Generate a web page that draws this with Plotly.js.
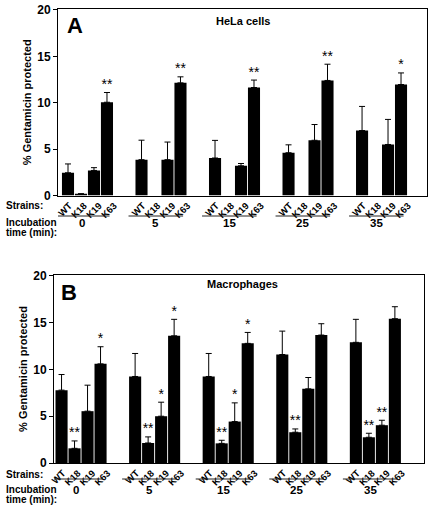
<!DOCTYPE html>
<html>
<head>
<meta charset="utf-8">
<script src="https://cdn.plot.ly/plotly-3.0.1.min.js"></script>
<style>html,body{margin:0;padding:0;background:#fff}#chart{width:433px;height:508px}</style>
</head>
<body>
<div id="chart"></div>
<script>
// ---- Data ----
const strains = ['WT', 'K18', 'K19', 'K63'];
const times = ['0', '5', '15', '25', '35'];

// Panel A: HeLa cells (% gentamicin protected), mean and upper error (null = nothing drawn)
const helaWT = [2.45, 3.86, 4.04, 4.61, 7.0];
const helaWTerr = [0.95, 2.1, 1.9, 0.85, 2.6];
const helaK18 = [0.18, null, null, null, null];
const helaK18err = [null, null, null, null, null];
const helaK19 = [2.7, 3.86, 3.2, 5.95, 5.5];
const helaK19err = [0.3, 1.9, 0.25, 1.7, 2.7];
const helaK63 = [10.05, 12.14, 11.64, 12.4, 11.96];
const helaK63err = [1.05, 0.65, 0.8, 1.75, 1.25];
const helaStarsWT = ['', '', '', '', ''];
const helaStarsK18 = ['', '', '', '', ''];
const helaStarsK19 = ['', '', '', '', ''];
const helaStarsK63 = ['**', '**', '**', '**', '*'];

// Panel B: Macrophages
const macWT = [7.79, 9.25, 9.25, 11.6, 12.9];
const macWTerr = [1.67, 2.46, 2.46, 2.5, 2.46];
const macK18 = [1.57, 2.14, 2.1, 3.29, 2.75];
const macK18err = [0.79, 0.65, 0.33, 0.35, 0.43];
const macK19 = [5.54, 5.0, 4.43, 7.93, 4.04];
const macK19err = [2.78, 1.5, 2.0, 1.21, 0.53];
const macK63 = [10.6, 13.6, 12.79, 13.68, 15.43];
const macK63err = [1.83, 1.76, 1.17, 1.21, 1.28];
const macStarsWT = ['', '', '', '', ''];
const macStarsK18 = ['**', '**', '**', '**', '**'];
const macStarsK19 = ['', '*', '*', '', '**'];
const macStarsK63 = ['*', '*', '*', '', ''];

// ---- Layout helpers ----
const STEP = 5.66;
const W = 433, H = 508;
const FONT = 'Liberation Sans, Arial, Helvetica, sans-serif';
const pos = (g, j) => g * STEP + j;

const panels = [
  {xa: 'x', ya: 'y', series: [helaWT, helaK18, helaK19, helaK63],
   errs: [helaWTerr, helaK18err, helaK19err, helaK63err],
   stars: [helaStarsWT, helaStarsK18, helaStarsK19, helaStarsK63]},
  {xa: 'x2', ya: 'y2', series: [macWT, macK18, macK19, macK63],
   errs: [macWTerr, macK18err, macK19err, macK63err],
   stars: [macStarsWT, macStarsK18, macStarsK19, macStarsK63]}
];

const traces = [];
panels.forEach(p => {
  strains.forEach((s, j) => {
    const xs = times.map((t, g) => pos(g, j));
    traces.push({
      type: 'bar', x: xs, y: p.series[j], width: 0.93, name: s,
      xaxis: p.xa, yaxis: p.ya,
      marker: {color: '#000', line: {width: 0}},
      error_y: {type: 'data', symmetric: false, array: p.errs[j],
        arrayminus: p.errs[j].map(() => 0), color: '#000', thickness: 1, width: 3},
      hoverinfo: 'skip'
    });
    traces.push({
      type: 'scatter', mode: 'text', x: xs,
      y: p.series[j].map((v, i) => (v || 0) + (p.errs[j][i] || 0)),
      text: p.stars[j], textposition: 'top center',
      textfont: {family: FONT, size: 14, color: '#000'},
      xaxis: p.xa, yaxis: p.ya, hoverinfo: 'skip', cliponaxis: false
    });
  });
});

const tickvals = [], ticktext = [];
times.forEach((t, g) => strains.forEach((s, j) => { tickvals.push(pos(g, j * 1.15 + 0.1)); ticktext.push(s); }));

const py = px => 1 - px / H;
const axisX = (dom, rng, anchor) => ({
  domain: dom, range: rng, anchor: anchor, tickvals: tickvals, ticktext: ticktext,
  tickangle: -45, ticks: '', showline: true, mirror: true, linecolor: '#000', linewidth: 1,
  showgrid: false, zeroline: false,
  tickfont: {family: FONT, size: 9.5, color: '#000', weight: 'bold'}
});
const axisY = (dom, rng, anchor) => ({
  domain: dom, range: rng, anchor: anchor, tickvals: [0, 5, 10, 15, 20],
  ticks: 'outside', ticklen: 4, tickcolor: '#000', showline: true, mirror: true,
  linecolor: '#000', linewidth: 1, showgrid: false, zeroline: false,
  tickfont: {family: FONT, size: 12, color: '#000', weight: 'bold'},
  title: {text: '% Gentamicin protected', font: {family: FONT, size: 11, color: '#000', weight: 'bold'}, standoff: 3}
});

const shapes = [], annotations = [];
const rowInfo = [
  {xref: 'x', strainsY: 206, lineY: 216, numY: 223, incY: 222, timeY: 232},
  {xref: 'x2', strainsY: 474, lineY: 479, numY: 490, incY: 489, timeY: 499}
];
rowInfo.forEach(r => {
  times.forEach((t, g) => {
    shapes.push({type: 'line', xref: r.xref, yref: 'paper', x0: pos(g, -1.0), x1: pos(g, 3.2),
      y0: py(r.lineY), y1: py(r.lineY), line: {color: '#222', width: 1}});
    annotations.push({xref: r.xref, yref: 'paper', x: pos(g, 1.1), y: py(r.numY), text: t,
      showarrow: false, xanchor: 'center', yanchor: 'middle',
      font: {family: FONT, size: 11.5, color: '#000', weight: 'bold'}});
  });
  [['Strains:', r.strainsY], ['Incubation', r.incY], ['time (min):', r.timeY]].forEach(([txt, yy]) => {
    annotations.push({xref: 'paper', yref: 'paper', x: 4 / W, y: py(yy), text: txt, showarrow: false,
      xanchor: 'left', yanchor: 'middle', font: {family: FONT, size: 10, color: '#000', weight: 'bold'}});
  });
});
annotations.push({xref: 'paper', yref: 'paper', x: 243 / W, y: py(21), text: 'HeLa cells', showarrow: false,
  xanchor: 'center', yanchor: 'middle', font: {family: FONT, size: 11, color: '#000', weight: 'bold'}});
annotations.push({xref: 'paper', yref: 'paper', x: 242 / W, y: py(284), text: 'Macrophages', showarrow: false,
  xanchor: 'center', yanchor: 'middle', font: {family: FONT, size: 11, color: '#000', weight: 'bold'}});
annotations.push({xref: 'paper', yref: 'paper', x: 75 / W, y: py(25), text: 'A', showarrow: false,
  xanchor: 'center', yanchor: 'middle', font: {family: FONT, size: 22, color: '#000', weight: 'bold'}});
annotations.push({xref: 'paper', yref: 'paper', x: 69 / W, y: py(292), text: 'B', showarrow: false,
  xanchor: 'center', yanchor: 'middle', font: {family: FONT, size: 22, color: '#000', weight: 'bold'}});

const layout = {
  width: W, height: H, margin: {l: 0, r: 0, t: 0, b: 0},
  paper_bgcolor: '#fff', plot_bgcolor: '#fff', showlegend: false, barmode: 'overlay',
  font: {family: FONT, color: '#000'},
  xaxis: axisX([58 / W, 427 / W], [-0.77, 27.64], 'y'),
  yaxis: axisY([py(195.5), py(9)], [0, 20.1], 'x'),
  xaxis2: axisX([54 / W, 424 / W], [-0.58, 27.88], 'y2'),
  yaxis2: axisY([py(463), py(275)], [0, 20.1], 'x2'),
  shapes: shapes, annotations: annotations
};

Plotly.newPlot('chart', traces, layout, {staticPlot: true, displayModeBar: false});
</script>
</body>
</html>
